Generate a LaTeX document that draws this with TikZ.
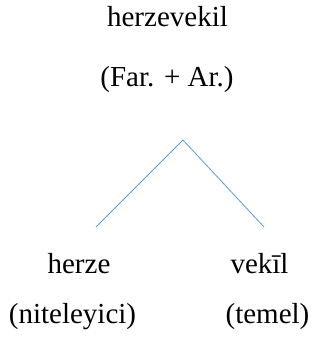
\documentclass[tikz,border=0pt]{standalone}
\usepackage{fontspec}
\setmainfont{Liberation Serif}
\usepackage{xcolor}
\usepackage{tikz}
\definecolor{treeblue}{RGB}{91, 155, 213}
\tikzset{word/.style={anchor=base, inner sep=0pt, font=\fontsize{29}{32}\selectfont}}

\begin{document}
\begin{tikzpicture}[x=1pt, y=-1pt]
\useasboundingbox (0,0) rectangle (322,350);
\node[word] (compound) at (167.5,27) {herzevekil};
\node[word] (origin) at (167,87) {(Far. + Ar.)};
\coordinate (apex) at (183,140);
\coordinate (leftleg) at (96,227);
\coordinate (rightleg) at (264,227);
\draw[treeblue, line width=0.8pt] (leftleg) -- (apex) -- (rightleg);
\node[word] (modifier) at (79,273) {herze};
\node[word] (head) at (259.5,273) {vekīl};
\node[word] (modlabel) at (72.5,323) {(niteleyici)};
\node[word] (headlabel) at (267.5,323) {(temel)};
\end{tikzpicture}
\end{document}
